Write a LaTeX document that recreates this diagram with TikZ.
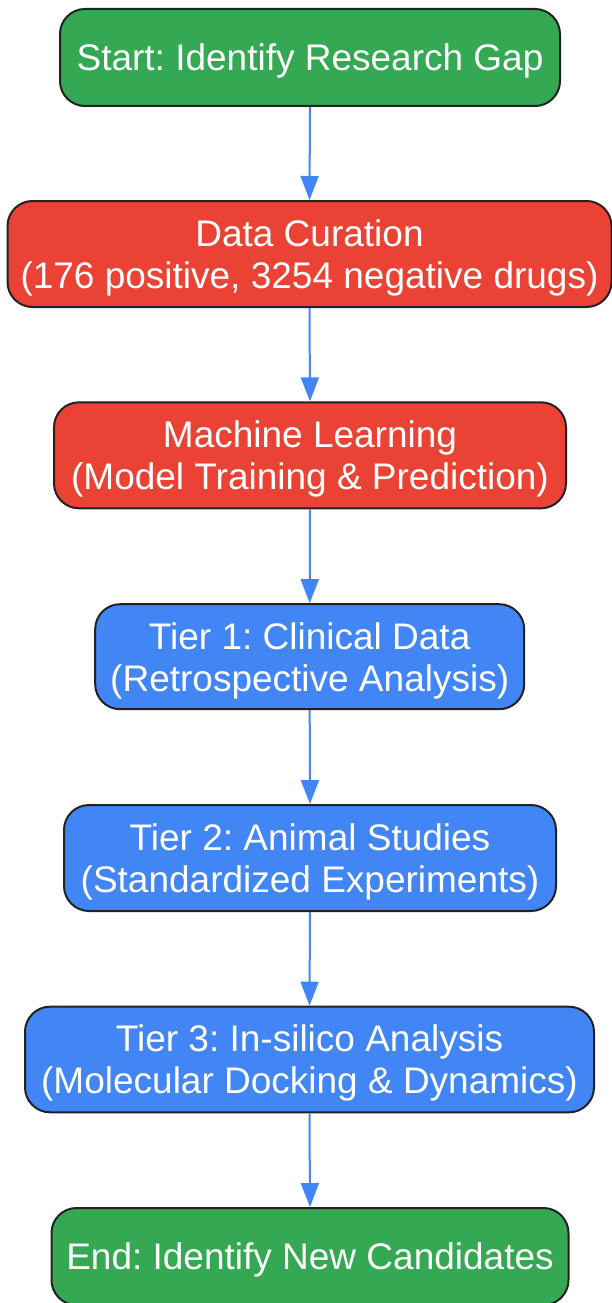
\documentclass[tikz,border=0pt]{standalone}
\usepackage{fontspec}
\setmainfont{Liberation Sans}
\usetikzlibrary{arrows.meta}
\definecolor{gstart}{HTML}{34A853}
\definecolor{rstep}{HTML}{EA4335}
\definecolor{bstep}{HTML}{4285F4}
\definecolor{edgedark}{HTML}{222222}
\tikzset{
  box/.style={rectangle, rounded corners=25pt, draw=edgedark, line width=2pt,
    text=white, align=center, inner sep=0pt, text depth=0pt,
    font=\fontsize{37}{42}\selectfont\frenchspacing},
  flow/.style={draw=bstep, line width=2pt,
    -{Triangle[length=24pt,width=18pt]}}
}
\begin{document}
\begin{tikzpicture}[x=1pt,y=-1pt]
\useasboundingbox (0,0) rectangle (612,1303);
\node[box, fill=gstart, minimum width=500pt, minimum height=97pt] (n1) at (310,57.5) {Start: Identify Research Gap};
\node[box, fill=rstep, minimum width=604pt, minimum height=106pt] (n2) at (309.5,254) {Data Curation\\(176 positive, 3254 negative drugs)};
\node[box, fill=rstep, minimum width=512pt, minimum height=106pt] (n3) at (310,455.3) {Machine Learning\\(Model Training \& Prediction)};
\node[box, fill=bstep, minimum width=429pt, minimum height=105pt] (n4) at (309.7,656.7) {Tier 1: Clinical Data\\(Retrospective Analysis)};
\node[box, fill=bstep, minimum width=492pt, minimum height=106pt] (n5) at (310,858) {Tier 2: Animal Studies\\(Standardized Experiments)};
\node[box, fill=bstep, minimum width=569pt, minimum height=105.6pt] (n6) at (309.5,1059.5) {Tier 3: In-silico Analysis\\(Molecular Docking \& Dynamics)};
\node[box, fill=gstart, minimum width=517pt, minimum height=97pt] (n7) at (310,1256.5) {End: Identify New Candidates};
\draw[flow] (n1.south) -- (n2.north);
\draw[flow] (n2.south) -- (n3.north);
\draw[flow] (n3.south) -- (n4.north);
\draw[flow] (n4.south) -- (n5.north);
\draw[flow] (n5.south) -- (n6.north);
\draw[flow] (n6.south) -- (n7.north);
\end{tikzpicture}
\end{document}
